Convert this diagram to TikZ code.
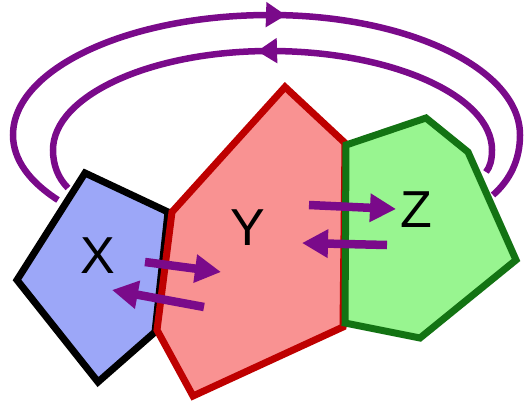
\documentclass[tikz,border=0pt]{standalone}
\usepackage{fontspec}
\setmainfont{Liberation Sans}
\usetikzlibrary{arrows.meta,decorations.markings}
\definecolor{purp}{HTML}{7A0A8A}
\definecolor{bfill}{HTML}{9CA7F8}
\definecolor{rfill}{HTML}{F99292}
\definecolor{redline}{HTML}{BE0000}
\definecolor{gfill}{HTML}{98F590}
\definecolor{gline}{HTML}{137313}
\tikzset{
  loopline/.style={draw=purp, line width=6.5pt},
  loopfwd/.style={loopline, postaction={decorate}, decoration={markings,
     mark=at position #1 with {\arrow{Triangle[length=20pt,width=24pt]}}}},
  shortarrow/.style={draw=purp, line width=8.5pt, -{Triangle[length=26pt,width=27pt]}},
  region/.style={line width=7pt, line join=miter},
  lbl/.style={inner sep=0pt, font=\fontsize{52}{54}\selectfont}
}
\begin{document}
\begin{tikzpicture}[x=1pt,y=-1pt]
\useasboundingbox (0,0) rectangle (526,404);
% loops
\draw[loopfwd=0.535] (58,200) .. controls (30,182) and (13,160) .. (13,135)
  .. controls (13,69) and (128,15) .. (270,15)
  .. controls (408,15) and (520,69) .. (520,135)
  .. controls (520,160) and (510,180) .. (493,195);
\draw[loopfwd=0.51] (486,172) .. controls (490,167) and (492,160) .. (492,150)
  .. controls (492,96) and (392,51) .. (270,51)
  .. controls (150,51) and (53,96) .. (53,150)
  .. controls (53,165) and (58,178) .. (68,188);
% regions
\draw[region, fill=bfill, draw=black] (85,173) -- (168,212) -- (155,332) -- (98,382) -- (17,280) -- cycle;
\draw[region, fill=rfill, draw=redline] (285,87) -- (345,143) -- (343,327) -- (193,396) -- (157,330) -- (172,212) -- cycle;
\draw[region, fill=gfill, draw=gline] (346,145) -- (426,118) -- (468,152) -- (516,260) -- (420,338) -- (345,323) -- cycle;
% labels
\node[lbl] (X) at (98,256) {X};
\node[lbl] (Y) at (248,228) {Y};
\node[lbl] (Z) at (416,210) {Z};
% short arrows
\coordinate (xa1) at (145,262); \coordinate (ya1) at (221,272);
\coordinate (ya2) at (204,307); \coordinate (xa2) at (112,290);
\coordinate (yb1) at (309,205); \coordinate (zb1) at (396,209);
\coordinate (zb2) at (387,245); \coordinate (yb2) at (302,243);
\draw[shortarrow] (xa1) -- (ya1);
\draw[shortarrow] (ya2) -- (xa2);
\draw[shortarrow] (yb1) -- (zb1);
\draw[shortarrow] (zb2) -- (yb2);
\end{tikzpicture}
\end{document}
